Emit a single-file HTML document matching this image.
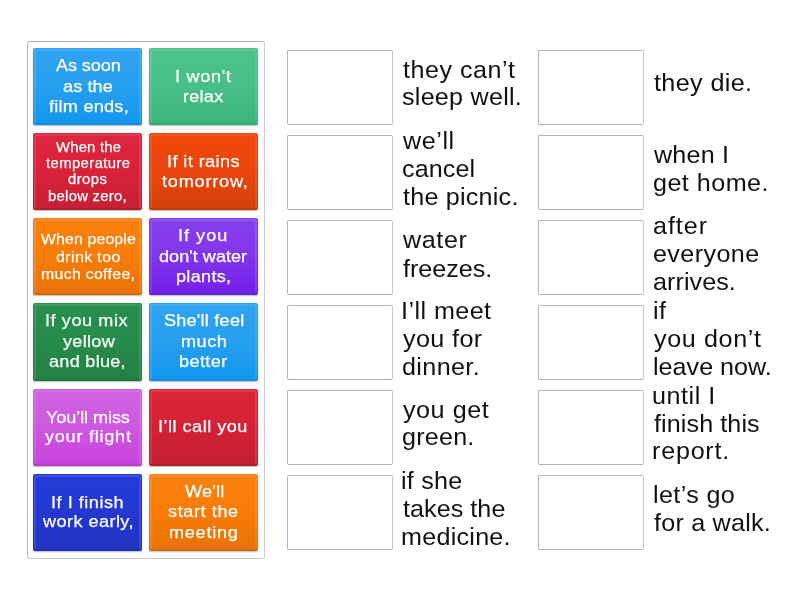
<!DOCTYPE html>
<html lang="en"><head><meta charset="utf-8"><title>Match up</title>
<style>
html,body{margin:0;padding:0;background:#fff;}
body{width:800px;height:600px;position:relative;overflow:hidden;font-family:"Liberation Sans",sans-serif;}
.panel{position:absolute;left:27px;top:41px;width:236px;height:516px;border:1px solid #b4b4b4;border-color:#b2b2b2 #d0d0d4 #c8c8cc #b8b8b8;border-radius:3px;background:#fff;}
.tile{position:absolute;width:109px;height:77px;border-radius:2px;color:#fff;box-shadow:inset 0 -2px 0 rgba(0,0,0,.07),0 1px 1.5px rgba(0,0,0,.28);}
.tile::before{content:"";position:absolute;left:1px;top:1px;right:1px;bottom:2px;border:2px solid rgba(255,255,255,.10);border-bottom:0;border-radius:2px 2px 0 0;}
.tile span,.def span{position:absolute;white-space:nowrap;line-height:normal;transform-origin:0 0;}
.tile span{-webkit-text-stroke:0.25px #fff;transform:scaleX(1.05);}
.def span{transform:scaleX(1.03);}
.box{position:absolute;width:104px;height:73px;border:1px solid #b8b8b8;border-color:#b6b6b6 #c6c6c6 #b0b0b0 #b6b6b6;border-radius:2px;background:#fff;}
.def{position:absolute;left:0;top:0;color:#111;}
</style></head><body>
<div class="panel">
<div class="tile" style="left:5px;top:6px;background:linear-gradient(to bottom,#30a3f1,#28a0f0 45%,#1196ee);font-size:17.2px"><span style="left:22.88px;top:7.25px;letter-spacing:-0.07px">As soon</span><span style="left:29.82px;top:27.80px;letter-spacing:0.10px">as the</span><span style="left:15.62px;top:48.20px;letter-spacing:0.26px">film ends,</span></div>
<div class="tile" style="left:121px;top:6px;background:linear-gradient(to bottom,#4ec28c,#48c088 45%,#3eb37c);font-size:17.2px"><span style="left:25.52px;top:17.75px;letter-spacing:0.69px">I won't</span><span style="left:33.91px;top:37.50px;letter-spacing:0.26px">relax</span></div>
<div class="tile" style="left:5px;top:91px;background:linear-gradient(to bottom,#dd263e,#da223a 45%,#c61f35);font-size:14.1px"><span style="left:22.61px;top:5.75px;letter-spacing:0.22px">When the</span><span style="left:13.15px;top:22.25px;letter-spacing:0.41px">temperature</span><span style="left:35.22px;top:38.00px;letter-spacing:0.46px">drops</span><span style="left:15.42px;top:54.50px;letter-spacing:0.29px">below zero,</span></div>
<div class="tile" style="left:121px;top:91px;background:linear-gradient(to bottom,#f1480c,#ea460c 45%,#d5400b);font-size:17.2px"><span style="left:17.72px;top:17.75px;letter-spacing:0.41px">If it rains</span><span style="left:13.10px;top:37.50px;letter-spacing:0.78px">tomorrow,</span></div>
<div class="tile" style="left:5px;top:176px;background:linear-gradient(to bottom,#fa8110,#fa7d08 45%,#e67205);font-size:15.1px"><span style="left:7.90px;top:12.25px;letter-spacing:0.13px">When people</span><span style="left:22.87px;top:29.50px;letter-spacing:0.41px">drink too</span><span style="left:7.80px;top:46.50px;letter-spacing:0.30px">much coffee,</span></div>
<div class="tile" style="left:121px;top:176px;background:linear-gradient(to bottom,#873fec,#8237eb 45%,#731fe9);font-size:17.2px"><span style="left:29.42px;top:7.25px;letter-spacing:0.97px">If you</span><span style="left:10.36px;top:27.80px;letter-spacing:0.04px">don't water</span><span style="left:27.49px;top:48.20px;letter-spacing:0.31px">plants,</span></div>
<div class="tile" style="left:5px;top:261px;height:78px;background:linear-gradient(to bottom,#27904d,#268c4b 45%,#237f44);font-size:17.2px"><span style="left:12.47px;top:7.25px;letter-spacing:0.56px">If you mix</span><span style="left:29.61px;top:27.80px;letter-spacing:0.30px">yellow</span><span style="left:16.32px;top:48.20px;letter-spacing:0.28px">and blue,</span></div>
<div class="tile" style="left:121px;top:261px;height:78px;background:linear-gradient(to bottom,#30a3f1,#28a0f0 45%,#1196ee);font-size:17.2px"><span style="left:14.53px;top:7.25px;letter-spacing:0.24px">She'll feel</span><span style="left:31.65px;top:27.80px;letter-spacing:0.55px">much</span><span style="left:30.18px;top:48.20px;letter-spacing:0.39px">better</span></div>
<div class="tile" style="left:5px;top:347px;background:linear-gradient(to bottom,#d062e1,#ce5ae0 45%,#c742dc);font-size:17.2px"><span style="left:13.41px;top:17.50px;letter-spacing:-0.07px">You’ll miss</span><span style="left:12.36px;top:37.00px;letter-spacing:0.73px">your flight</span></div>
<div class="tile" style="left:121px;top:347px;background:linear-gradient(to bottom,#dc2338,#d62236 45%,#c31f31);font-size:17.2px"><span style="left:9.47px;top:27.25px;letter-spacing:0.48px">I’ll call you</span></div>
<div class="tile" style="left:5px;top:432px;background:linear-gradient(to bottom,#253ad8,#2438d2 45%,#2133bf);font-size:17.2px"><span style="left:17.72px;top:17.50px;letter-spacing:0.51px">If I finish</span><span style="left:10.26px;top:37.00px;letter-spacing:0.44px">work early,</span></div>
<div class="tile" style="left:121px;top:432px;background:linear-gradient(to bottom,#fa8110,#fa7d08 45%,#e67205);font-size:17.2px"><span style="left:35.64px;top:7.00px;letter-spacing:0.25px">We'll</span><span style="left:19.30px;top:27.25px;letter-spacing:0.59px">start the</span><span style="left:20.40px;top:47.50px;letter-spacing:0.73px">meeting</span></div>
</div>
<div class="pair"><div class="box" style="left:287px;top:50px"></div><div class="def" style="font-size:24.4px"><span style="left:403.00px;top:56.25px;letter-spacing:0.49px">they can’t</span><span style="left:401.92px;top:83.40px;letter-spacing:0.24px">sleep well.</span></div></div>
<div class="pair"><div class="box" style="left:287px;top:135px"></div><div class="def" style="font-size:24.4px"><span style="left:403.39px;top:126.50px;letter-spacing:0.55px">we’ll</span><span style="left:401.89px;top:154.90px;letter-spacing:0.09px">cancel</span><span style="left:403.10px;top:182.50px;letter-spacing:0.22px">the picnic.</span></div></div>
<div class="pair"><div class="box" style="left:287px;top:220px"></div><div class="def" style="font-size:24.4px"><span style="left:403.39px;top:226.25px;letter-spacing:0.59px">water</span><span style="left:402.63px;top:254.60px;letter-spacing:-0.03px">freezes.</span></div></div>
<div class="pair"><div class="box" style="left:287px;top:305px"></div><div class="def" style="font-size:24.4px"><span style="left:400.66px;top:296.90px;letter-spacing:0.43px">I’ll meet</span><span style="left:403.21px;top:325.20px;letter-spacing:0.38px">you for</span><span style="left:401.91px;top:352.90px;letter-spacing:0.37px">dinner.</span></div></div>
<div class="pair"><div class="box" style="left:287px;top:390px"></div><div class="def" style="font-size:24.4px"><span style="left:403.21px;top:395.90px;letter-spacing:0.53px">you get</span><span style="left:401.91px;top:422.90px;letter-spacing:0.21px">green.</span></div></div>
<div class="pair"><div class="box" style="left:287px;top:475px"></div><div class="def" style="font-size:24.4px"><span style="left:401.32px;top:466.90px;letter-spacing:0.24px">if she</span><span style="left:403.10px;top:495.40px;letter-spacing:0.05px">takes the</span><span style="left:400.79px;top:522.90px;letter-spacing:0.25px">medicine.</span></div></div>
<div class="pair"><div class="box" style="left:538px;top:50px"></div><div class="def" style="font-size:24.4px"><span style="left:654.20px;top:69.40px;letter-spacing:0.38px">they die.</span></div></div>
<div class="pair"><div class="box" style="left:538px;top:135px"></div><div class="def" style="font-size:24.4px"><span style="left:654.39px;top:141.25px;letter-spacing:0.18px">when I</span><span style="left:652.91px;top:169.25px;letter-spacing:0.45px">get home.</span></div></div>
<div class="pair"><div class="box" style="left:538px;top:220px"></div><div class="def" style="font-size:24.4px"><span style="left:652.83px;top:211.90px;letter-spacing:0.93px">after</span><span style="left:652.89px;top:240.40px;letter-spacing:0.39px">everyone</span><span style="left:652.83px;top:267.90px;letter-spacing:0.06px">arrives.</span></div></div>
<div class="pair"><div class="box" style="left:538px;top:305px"></div><div class="def" style="font-size:24.4px"><span style="left:652.82px;top:296.90px;letter-spacing:0.48px">if</span><span style="left:654.21px;top:325.40px;letter-spacing:0.61px">you don’t</span><span style="left:652.80px;top:352.90px;letter-spacing:0.01px">leave now.</span></div></div>
<div class="pair"><div class="box" style="left:538px;top:390px"></div><div class="def" style="font-size:24.4px"><span style="left:652.37px;top:381.90px;letter-spacing:0.53px">until I</span><span style="left:654.13px;top:410.40px;letter-spacing:0.09px">finish this</span><span style="left:652.30px;top:437.40px;letter-spacing:0.75px">report.</span></div></div>
<div class="pair"><div class="box" style="left:538px;top:475px"></div><div class="def" style="font-size:24.4px"><span style="left:652.80px;top:480.90px;letter-spacing:0.36px">let’s go</span><span style="left:654.13px;top:509.40px;letter-spacing:0.22px">for a walk.</span></div></div>
</body></html>
